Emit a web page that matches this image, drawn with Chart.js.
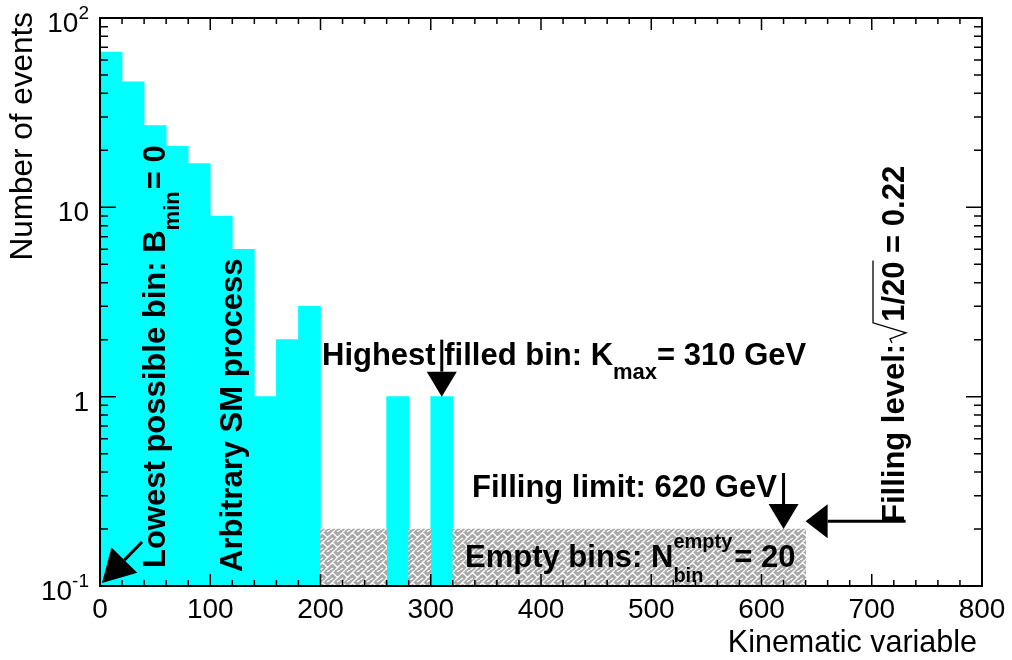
<!DOCTYPE html>
<html>
<head>
<meta charset="utf-8">
<script src="https://cdn.jsdelivr.net/npm/chart.js@4.4.1/dist/chart.umd.min.js"></script>
<style>
  body { margin: 0; background: #fff; }
  #wrap { width: 1012px; height: 660px; }
</style>
</head>
<body>
<div id="wrap"><canvas id="histo" width="1012" height="660"></canvas></div>
<script>
// bin centres (bins are 20 wide) and counts
const filledBins = [10, 30, 50, 70, 90, 110, 130, 150, 170, 190, 270, 310];
const eventCounts = [66, 46, 27, 21, 17, 9, 6, 1, 2, 3, 1, 1];
const emptyBins = [210, 230, 250, 290, 330, 350, 370, 390, 410, 430,
                   450, 470, 490, 510, 530, 550, 570, 590, 610, 630];
const emptyLevel = [0.2, 0.2, 0.2, 0.2, 0.2, 0.2, 0.2, 0.2, 0.2, 0.2,
                    0.2, 0.2, 0.2, 0.2, 0.2, 0.2, 0.2, 0.2, 0.2, 0.2];
const xTicks = [0, 100, 200, 300, 400, 500, 600, 700, 800];
const yTicks = [0.1, 1, 10, 100];
const yTickLabels = [['10', '-1'], ['1', ''], ['10', ''], ['10', '2']];

const FONT = '"Liberation Sans", Arial, sans-serif';

// grey basket-weave fill like the ROOT hatch style
function makeHatch() {
  const tile = document.createElement('canvas');
  tile.width = 10; tile.height = 10;
  const g = tile.getContext('2d');
  g.fillStyle = '#a8a8a8';
  g.fillRect(0, 0, 10, 10);
  g.strokeStyle = '#ffffff';
  g.lineWidth = 1.4;
  g.beginPath();
  g.moveTo(0, 5); g.lineTo(5, 0);
  g.moveTo(5, 10); g.lineTo(10, 5);
  g.moveTo(2, 2); g.lineTo(8, 8);
  g.moveTo(7, 2); g.lineTo(10, 0);
  g.moveTo(0, 10); g.lineTo(3, 8);
  g.stroke();
  return g.createPattern(tile, 'repeat');
}

// text with sub/superscripts, parts drawn one after the other
function drawRich(ctx, x, y, parts, rotated) {
  ctx.save();
  ctx.translate(x, y);
  if (rotated) ctx.rotate(-Math.PI / 2);
  ctx.textAlign = 'left';
  ctx.textBaseline = 'alphabetic';
  ctx.fillStyle = '#000';
  let cx = 0, held = 0;
  for (const p of parts) {
    ctx.font = 'bold ' + (p.size || 31) + 'px ' + FONT;
    ctx.fillText(p.t, cx, p.dy || 0);
    const w = ctx.measureText(p.t).width;
    p.x0 = cx;
    p.w = w;
    if (p.hold) {
      held = Math.max(held, w);
    } else {
      cx += Math.max(w, held) + (p.gap || 0);
      held = 0;
    }
  }
  ctx.restore();
  return cx;
}

function arrow(ctx, x0, y0, x1, y1, len, half) {
  const a = Math.atan2(y1 - y0, x1 - x0);
  const bx = x1 - len * Math.cos(a), by = y1 - len * Math.sin(a);
  ctx.save();
  ctx.strokeStyle = '#000';
  ctx.fillStyle = '#000';
  ctx.lineWidth = 3;
  ctx.beginPath();
  ctx.moveTo(x0, y0);
  ctx.lineTo(bx, by);
  ctx.stroke();
  ctx.beginPath();
  ctx.moveTo(x1, y1);
  ctx.lineTo(bx + half * Math.sin(a), by - half * Math.cos(a));
  ctx.lineTo(bx - half * Math.sin(a), by + half * Math.cos(a));
  ctx.closePath();
  ctx.fill();
  ctx.restore();
}

const rootStyle = {
  id: 'rootStyle',
  afterDatasetsDraw(chart) {
    const ctx = chart.ctx;
    const xs = chart.scales.x, ys = chart.scales.y;
    const a = chart.chartArea;

    ctx.save();
    ctx.strokeStyle = '#000';
    ctx.lineWidth = 1.5;
    // x ticks, bottom and top, pointing inwards
    ctx.beginPath();
    for (let v = 0; v <= 800; v += 20) {
      const px = xs.getPixelForValue(v);
      const len = v % 100 === 0 ? 12 : 6;
      ctx.moveTo(px, a.bottom); ctx.lineTo(px, a.bottom - len);
      ctx.moveTo(px, a.top); ctx.lineTo(px, a.top + len);
    }
    // y ticks, left and right
    for (const dec of [0.1, 1, 10]) {
      for (let k = 1; k <= 10; k++) {
        const py = ys.getPixelForValue(dec * k);
        const len = (k === 1 || k === 10) ? 16 : 8;
        ctx.moveTo(a.left, py); ctx.lineTo(a.left + len, py);
        ctx.moveTo(a.right, py); ctx.lineTo(a.right - len, py);
      }
    }
    ctx.stroke();
    ctx.lineWidth = 2;
    ctx.strokeRect(a.left, a.top, a.right - a.left, a.bottom - a.top);

    // tick labels
    ctx.fillStyle = '#000';
    ctx.textBaseline = 'alphabetic';
    ctx.font = '28px ' + FONT;
    ctx.textAlign = 'center';
    xTicks.forEach(v => ctx.fillText(String(v), xs.getPixelForValue(v), 618));
    yTicks.forEach((v, i) => {
      const py = ys.getPixelForValue(v);
      const [base, sup] = yTickLabels[i];
      ctx.textAlign = 'right';
      ctx.font = '19px ' + FONT;
      const sw = sup ? ctx.measureText(sup).width : 0;
      if (sup) ctx.fillText(sup, 89, py + 1);
      ctx.font = '28px ' + FONT;
      ctx.fillText(base, 89 - sw, py + 14);
    });

    // axis titles
    ctx.font = '30.5px ' + FONT;
    ctx.textAlign = 'right';
    ctx.fillText('Kinematic variable', 977, 652);
    ctx.save();
    ctx.translate(32, 12);
    ctx.rotate(-Math.PI / 2);
    ctx.font = '31.5px ' + FONT;
    ctx.textAlign = 'right';
    ctx.fillText('Number of events', 0, 0);
    ctx.restore();
    ctx.restore();

    // annotations
    drawRich(ctx, 165, 568, [{t: 'Lowest possible bin: B'}, {t: 'min', size: 22, dy: 14, gap: 2}, {t: '= 0'}], true);
    drawRich(ctx, 242, 572, [{t: 'Arbitrary SM process'}], true);
    drawRich(ctx, 322, 365, [{t: 'Highest filled bin: K'}, {t: 'max', size: 22, dy: 14}, {t: '= 310 GeV'}], false);
    drawRich(ctx, 472, 497, [{t: 'Filling limit: 620 GeV'}], false);
    drawRich(ctx, 465, 567, [{t: 'Empty bins: N'}, {t: 'empty', size: 20, dy: -19, hold: true}, {t: 'bin', size: 20, dy: 15, gap: 2}, {t: '= 20'}], false);

    // filling level with a drawn radical over 1/20
    const lvl = [{t: 'Filling level:', gap: 22}, {t: '1/20', gap: 0}, {t: ' = 0.22'}];
    drawRich(ctx, 904, 523, lvl, true);
    ctx.save();
    ctx.translate(904, 523);
    ctx.rotate(-Math.PI / 2);
    ctx.strokeStyle = '#000';
    ctx.lineWidth = 1.3;
    const r0 = lvl[1].x0 - 21, r2 = lvl[1].x0 + lvl[1].w + 1;
    ctx.beginPath();
    ctx.moveTo(r0, -12); ctx.lineTo(r0 + 4, -14);
    ctx.lineTo(r0 + 10, 2);
    ctx.lineTo(r0 + 20, -31);
    ctx.lineTo(r2, -31);
    ctx.stroke();
    ctx.restore();

    // arrows anchored on the scales
    const tLow = [xs.getPixelForValue(0) + 2, ys.getPixelForValue(0.1) - 3];
    arrow(ctx, tLow[0] + 40, tLow[1] - 41, tLow[0], tLow[1], 32, 18);
    const tHigh = [xs.getPixelForValue(310), ys.getPixelForValue(1)];
    arrow(ctx, tHigh[0], tHigh[1] - 57, tHigh[0], tHigh[1], 25, 15);
    const tLim = [xs.getPixelForValue(620), ys.getPixelForValue(0.2)];
    arrow(ctx, tLim[0], tLim[1] - 56, tLim[0], tLim[1], 25, 15);
    const tLvl = [xs.getPixelForValue(640), ys.getPixelForValue(0.22)];
    arrow(ctx, tLvl[0] + 100, tLvl[1], tLvl[0], tLvl[1], 22, 17);
  }
};

const hatch = makeHatch();

const barStyle = {
  grouped: false,
  barPercentage: 1,
  categoryPercentage: 1,
  borderWidth: 0
};

new Chart(document.getElementById('histo'), {
  type: 'bar',
  data: {
    datasets: [
      Object.assign({
        label: 'Empty bins',
        data: emptyBins.map((x, i) => ({x: x, y: emptyLevel[i]})),
        backgroundColor: hatch
      }, barStyle),
      Object.assign({
        label: 'Arbitrary SM process',
        data: filledBins.map((x, i) => ({x: x, y: eventCounts[i]})),
        backgroundColor: '#00ffff'
      }, barStyle)
    ]
  },
  options: {
    responsive: false,
    animation: false,
    layout: { padding: { top: 18, right: 30, left: 0, bottom: 0 } },
    plugins: { legend: { display: false }, tooltip: { enabled: false } },
    scales: {
      x: {
        type: 'linear', min: 0, max: 800, offset: false,
        grid: { display: false }, border: { display: false },
        ticks: { display: false, stepSize: 100 },
        afterFit: s => { s.height = 74; }
      },
      y: {
        type: 'logarithmic', min: 0.1, max: 100,
        grid: { display: false }, border: { display: false },
        ticks: { display: false },
        afterFit: s => { s.width = 100; }
      }
    }
  },
  plugins: [rootStyle]
});
</script>
</body>
</html>
